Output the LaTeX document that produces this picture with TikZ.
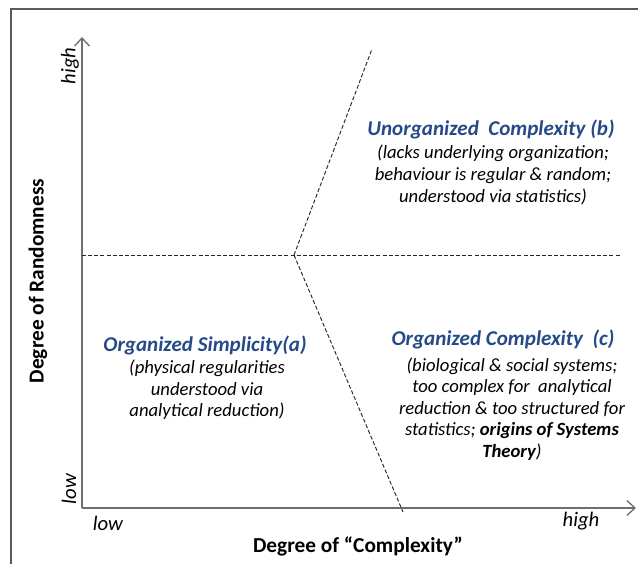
\documentclass[tikz,border=0pt]{standalone}
\usepackage{fontspec}
\setmainfont{Carlito}
\usetikzlibrary{arrows.meta}
\definecolor{titleblue}{RGB}{38,74,135}
\definecolor{framegray}{RGB}{90,90,90}
\definecolor{axisgray}{RGB}{110,110,110}

\begin{document}
\begin{tikzpicture}[x=0.75pt,y=-0.75pt,
  >={Straight Barb[length=6pt,width=11pt]},
  axis/.style={axisgray, line width=1pt},
  divider/.style={black!85, line width=0.7pt, dash pattern=on 3pt off 1.6pt},
  quadtitle/.style={text=titleblue, font=\fontsize{15.8}{18}\selectfont\bfseries\itshape},
  quaddesc/.style={align=center, font=\fontsize{14}{16.2}\selectfont\itshape},
  tick/.style={font=\fontsize{15.5}{17}\selectfont\itshape},
  axislabel/.style={font=\fontsize{16}{19}\selectfont\bfseries}]
  \useasboundingbox (0,0) rectangle (638,564);

  % frame (cut at right and bottom)
  \draw[framegray, line width=1.4pt] (11,564) -- (11,9) -- (638,9);

  % axes
  \coordinate (origin) at (82,508);
  \coordinate (ytop) at (82,37);
  \coordinate (xend) at (636,508);
  \draw[axis,->] (origin) -- (ytop);
  \draw[axis,->] (origin) -- (xend);

  % dividing lines
  \coordinate (leftend) at (82,255);
  \coordinate (rightend) at (621,255);
  \coordinate (meet) at (294,255);
  \coordinate (upperend) at (372,49);
  \coordinate (lowerend) at (403,512);
  \draw[divider] (leftend) -- (rightend);
  \draw[divider] (meet) -- (upperend);
  \draw[divider] (meet) -- (lowerend);

  % axis ticks
  \node[tick, rotate=90] (yhigh) at (70,66) {high};
  \node[tick, rotate=90] (ylow) at (69,489) {low};
  \node[tick] (xlow) at (108,523) {low};
  \node[tick] (xhigh) at (581,521) {high};

  % axis labels
  \node[axislabel, rotate=90] (ylabel) at (38,281) {Degree of Randomness};
  \node[axislabel] (xlabel) at (358,546) {Degree of “Complexity”};

  % quadrants
  \node[quadtitle] (titleb) at (491,129) {Unorganized\ \ Complexity (b)};
  \node[quaddesc] (descb) at (493,175) {(lacks underlying organization;\\behaviour is regular \& random;\\understood via statistics)};

  \node[quadtitle] (titlea) at (205,345) {Organized Simplicity(a)};
  \node[quaddesc] (desca) at (207,390) {(physical regularities\\understood via\\analytical reduction)};

  \node[quadtitle] (titlec) at (503,339) {Organized Complexity\ \ (c)};
  \node[quaddesc] (descc) at (512,409) {(biological \& social systems;\\too complex for\ \ analytical\\reduction \& too structured for\\statistics; \textbf{origins of Systems}\\\textbf{Theory})};
\end{tikzpicture}
\end{document}
